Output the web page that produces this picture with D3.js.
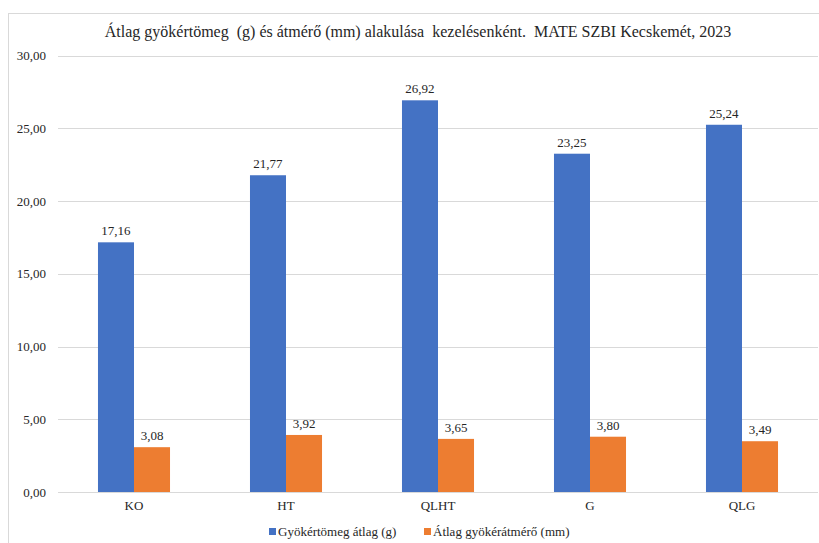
<!DOCTYPE html>
<html>
<head>
<meta charset="utf-8">
<script src="https://cdn.jsdelivr.net/npm/d3@7"></script>
<style>
  html, body { margin: 0; padding: 0; background: #fff; }
  svg { display: block; font-family: "Liberation Serif", "Times New Roman", serif; }
</style>
</head>
<body>
<svg id="chart" width="819" height="543"></svg>
<script>
// Treatments and measured values
const categories = ["KO", "HT", "QLHT", "G", "QLG"];
const seriesNames = ["Gyökértömeg átlag (g)", "Átlag gyökérátmérő (mm)"];
const rootMass = [17.16, 21.77, 26.92, 23.25, 25.24];
const rootDiameter = [3.08, 3.92, 3.65, 3.80, 3.49];
const yTicks = [0, 5, 10, 15, 20, 25, 30];
const titleText = "Átlag gyökértömeg  (g) és átmérő (mm) alakulása  kezelésenként.  MATE SZBI Kecskemét, 2023";

const colors = ["#4472C4", "#ED7D31"];
const seriesValues = [rootMass, rootDiameter];
const textColor = "#262626";

const svg = d3.select("#chart");
const W = 819, H = 543;
const plot = { left: 58, right: 818, top: 55.5, bottom: 492 };
const serif = "Liberation Serif, Times New Roman, serif";

// chart area frame
svg.append("rect")
  .attr("x", 8.5).attr("y", 13.5)
  .attr("width", W + 10).attr("height", H + 10)
  .attr("fill", "#fff").attr("stroke", "#d9d9d9").attr("stroke-width", 1);

const fmt = v => d3.format(".2f")(v).replace(".", ",");

const y = d3.scaleLinear().domain([0, 30]).range([plot.bottom, plot.top]);
const x0 = d3.scaleBand().domain(categories).range([plot.left, plot.right]).padding(0);
const x1 = d3.scaleBand().domain(d3.range(seriesNames.length))
  .range([0, x0.bandwidth()]).paddingInner(0).paddingOuter(1.11);

// gridlines
svg.append("g")
  .selectAll("line").data(yTicks).join("line")
  .attr("x1", plot.left).attr("x2", plot.right)
  .attr("y1", d => Math.round(y(d)) + 0.5).attr("y2", d => Math.round(y(d)) + 0.5)
  .attr("stroke", "#d9d9d9").attr("stroke-width", 1);

// y axis labels
const yAxis = d3.axisLeft(y).tickValues(yTicks).tickFormat(fmt).tickSize(0).tickPadding(0);
const gy = svg.append("g").attr("transform", `translate(${plot.left - 12},0)`).call(yAxis);
gy.select(".domain").remove();
gy.selectAll("text")
  .attr("font-family", serif)
  .attr("font-size", 13).attr("fill", textColor);

// x axis labels
const xAxis = d3.axisBottom(x0).tickSize(0).tickPadding(0);
const gx = svg.append("g").attr("transform", `translate(0,${plot.bottom + 9})`).call(xAxis);
gx.select(".domain").remove();
gx.selectAll("text")
  .attr("font-family", serif)
  .attr("font-size", 13).attr("fill", textColor);

// bars with value labels
const groups = svg.append("g").selectAll("g").data(categories).join("g")
  .attr("transform", d => `translate(${x0(d)},0)`);

groups.each(function(cat, ci) {
  const g = d3.select(this);
  seriesValues.forEach((vals, si) => {
    const v = vals[ci];
    g.append("rect")
      .attr("x", x1(si)).attr("width", x1.bandwidth())
      .attr("y", y(v)).attr("height", y(0) - y(v))
      .attr("fill", colors[si]);
    g.append("text")
      .attr("x", x1(si) + x1.bandwidth() / 2)
      .attr("y", y(v) - 7)
      .attr("text-anchor", "middle")
      .attr("font-size", 13).attr("fill", textColor)
      .text(fmt(v));
  });
});

// title
svg.append("text")
  .attr("x", 418).attr("y", 37)
  .attr("text-anchor", "middle")
  .attr("font-size", 16).attr("fill", textColor)
  .style("white-space", "pre")
  .text(titleText);

// legend
const legend = svg.append("g");
const legendX = [269, 424];
seriesNames.forEach((name, i) => {
  legend.append("rect")
    .attr("x", legendX[i]).attr("y", 528)
    .attr("width", 7).attr("height", 7)
    .attr("fill", colors[i]);
  legend.append("text")
    .attr("x", legendX[i] + 9).attr("y", 536)
    .attr("font-size", 13).attr("fill", textColor)
    .text(name);
});
</script>
</body>
</html>
